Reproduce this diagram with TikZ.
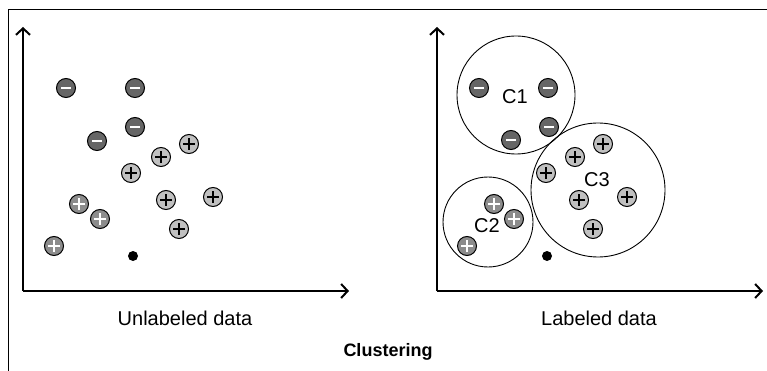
\documentclass[tikz,border=0pt]{standalone}
\usepackage{fontspec}
\setmainfont{Liberation Sans}
\usetikzlibrary{arrows.meta, positioning}
\definecolor{minusfill}{HTML}{666666}
\definecolor{pluslight}{HTML}{C0C0C0}
\definecolor{plusmid}{HTML}{8C8C8C}

\begin{document}
\begin{tikzpicture}[
    x=1pt, y=-1pt,
    every node/.style={font=\fontsize{20}{22}\selectfont},
    axis/.style={line width=1.4pt, -{Straight Barb[length=6.5pt, width=14pt, line width=2pt]}},
    dotbase/.style={circle, draw=black, line width=1pt, minimum size=19pt, inner sep=0pt},
    minuspt/.style={dotbase, fill=minusfill,
        path picture={\draw[white, line width=2.6pt] ([xshift=-5pt]path picture bounding box.center) -- ([xshift=5pt]path picture bounding box.center);}},
    pluspt/.style={dotbase, fill=pluslight,
        path picture={\draw[black, line width=2.2pt] ([xshift=-6pt]path picture bounding box.center) -- ([xshift=6pt]path picture bounding box.center)
            ([yshift=-6pt]path picture bounding box.center) -- ([yshift=6pt]path picture bounding box.center);}},
    pluswpt/.style={dotbase, fill=plusmid,
        path picture={\draw[white, line width=2.2pt] ([xshift=-6pt]path picture bounding box.center) -- ([xshift=6pt]path picture bounding box.center)
            ([yshift=-6pt]path picture bounding box.center) -- ([yshift=6pt]path picture bounding box.center);}},
    blackpt/.style={circle, fill=black, minimum size=10pt, inner sep=0pt},
    cluster/.style={circle, draw=black, line width=0.9pt, inner sep=0pt}
]
\useasboundingbox (0,0) rectangle (767,371);

% Frame
\coordinate (ftl) at (8,10);
\coordinate (ftr) at (767,10);
\coordinate (fbl) at (8,371);
\draw[line width=1pt] (fbl) -- (ftl) -- (ftr);

% Left panel: axes
\coordinate (o1) at (23,291);
\coordinate (y1) at (23,27);
\coordinate (x1) at (349,291);
\draw[axis] (o1) -- (y1);
\draw[axis] (o1) -- (x1);

% Left panel: points
\node[minuspt] (lm1) at (66,88) {};
\node[minuspt] (lm2) at (135,88) {};
\node[minuspt] (lm3) at (135,127) {};
\node[minuspt] (lm4) at (97,141) {};
\node[pluspt] (lp1) at (189,144) {};
\node[pluspt] (lp2) at (161,157) {};
\node[pluspt] (lp3) at (131,173) {};
\node[pluspt] (lp4) at (166,200) {};
\node[pluspt] (lp5) at (213,197) {};
\node[pluspt] (lp6) at (179,229) {};
\node[pluswpt] (lw1) at (79,204) {};
\node[pluswpt] (lw2) at (100,219) {};
\node[pluswpt] (lw3) at (54,246) {};
\node[blackpt] (ldot) at (133,256) {};

\node (lcap) at (185,318) {Unlabeled data};

% Right panel: axes
\coordinate (o2) at (437,291);
\coordinate (y2) at (437,27);
\coordinate (x2) at (763,291);
\draw[axis] (o2) -- (y2);
\draw[axis] (o2) -- (x2);

% Right panel: clusters
\node[cluster, minimum size=118pt] (c1) at (516,95) {};
\node[cluster, minimum size=90pt] (c2) at (488,222) {};
\node[cluster, minimum size=134pt] (c3) at (598,190) {};
\node (c1lab) at (515,97) {C1};
\node (c2lab) at (487,226) {C2};
\node (c3lab) at (597,180) {C3};

% Right panel: points
\node[minuspt] (rm1) at (479,88) {};
\node[minuspt] (rm2) at (548,88) {};
\node[minuspt] (rm3) at (549,127) {};
\node[minuspt] (rm4) at (511,140) {};
\node[pluspt] (rp1) at (603,144) {};
\node[pluspt] (rp2) at (575,157) {};
\node[pluspt] (rp3) at (546,173) {};
\node[pluspt] (rp4) at (579,200) {};
\node[pluspt] (rp5) at (627,197) {};
\node[pluspt] (rp6) at (593,229) {};
\node[pluswpt] (rw1) at (494,204) {};
\node[pluswpt] (rw2) at (514,219) {};
\node[pluswpt] (rw3) at (467,246) {};
\node[blackpt] (rdot) at (547,256) {};

\node (rcap) at (599,318) {Labeled data};

% Title
\node[font=\fontsize{18}{20}\selectfont\bfseries] (title) at (388,352) {Clustering};

\end{tikzpicture}
\end{document}
